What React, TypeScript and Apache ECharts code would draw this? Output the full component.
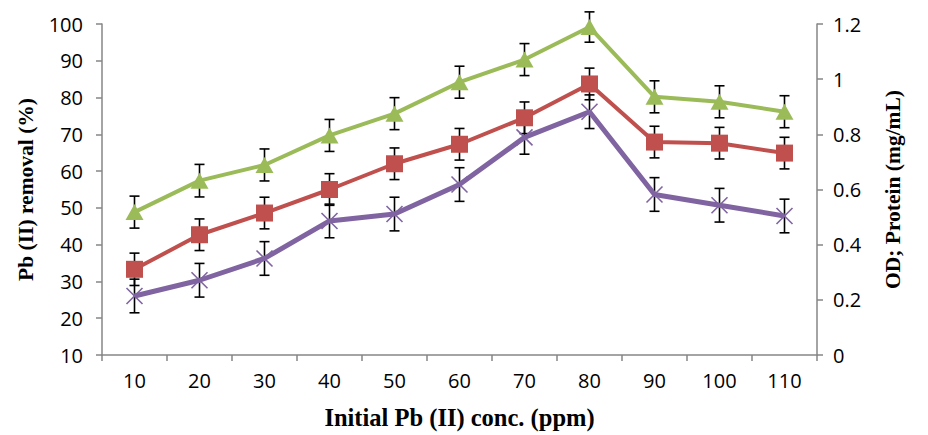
import React, { useEffect, useRef } from "react";
import * as echarts from "echarts";

const categories = ["10", "20", "30", "40", "50", "60", "70", "80", "90", "100", "110"];
// Pb (II) removal (%) - left axis (red squares)
const removal = [33.3, 42.7, 48.6, 55.0, 62.0, 67.3, 74.5, 83.7, 67.9, 67.6, 64.9];
const removalErr = [4.4, 4.3, 4.3, 4.3, 4.3, 4.3, 4.3, 4.3, 4.3, 4.3, 4.3];
// OD - right axis (green triangles)
const od = [0.518, 0.632, 0.689, 0.796, 0.875, 0.989, 1.071, 1.189, 0.936, 0.918, 0.882];
const odErr = [0.058, 0.059, 0.058, 0.058, 0.058, 0.058, 0.058, 0.055, 0.058, 0.058, 0.058];
// Protein (mg/mL) - right axis (purple crosses)
const protein = [0.214, 0.271, 0.35, 0.486, 0.511, 0.618, 0.789, 0.882, 0.582, 0.543, 0.504];
const proteinErr = [0.061, 0.061, 0.061, 0.061, 0.061, 0.061, 0.061, 0.061, 0.061, 0.061, 0.061];

const leftTicks = { min: 10, max: 100, interval: 10 };
const rightTicks = { min: 0, max: 1.2, interval: 0.2 };

const errData = (vals: number[], errs: number[]) =>
  vals.map((v, i) => [i, v - errs[i], v + errs[i]]);

const renderErr = (params: any, api: any) => {
  const x = api.value(0);
  const lo = api.coord([x, api.value(1)]);
  const hi = api.coord([x, api.value(2)]);
  const w = 5;
  const style = { stroke: "#000", lineWidth: 1.6 };
  return {
    type: "group",
    children: [
      { type: "line", shape: { x1: lo[0], y1: lo[1], x2: hi[0], y2: hi[1] }, style },
      { type: "line", shape: { x1: lo[0] - w, y1: lo[1], x2: lo[0] + w, y2: lo[1] }, style },
      { type: "line", shape: { x1: hi[0] - w, y1: hi[1], x2: hi[0] + w, y2: hi[1] }, style },
    ],
  };
};

const GREEN = "#9BBB59";
const RED = "#C0504D";
const PURPLE = "#8064A2";
const AXIS = "#868686";
const tickFont = { fontFamily: "Open Sans", fontSize: 20, color: "#000" };
const nameFont = { fontFamily: "Liberation Serif", fontSize: 21.5, fontWeight: "bold" as const, color: "#000" };

export default function App() {
  const ref = useRef<HTMLDivElement>(null);
  useEffect(() => {
    if (!ref.current) return;
    const chart = echarts.init(ref.current, null, { renderer: "svg" });
    chart.setOption({
      animation: false,
      grid: { left: 102, right: 111, top: 24, bottom: 75 },
      xAxis: {
        type: "category",
        data: categories,
        boundaryGap: true,
        name: "Initial Pb (II) conc. (ppm)",
        nameLocation: "middle",
        nameGap: 50,
        nameTextStyle: { ...nameFont, fontSize: 24.5 },
        axisLine: { lineStyle: { color: AXIS, width: 1.5 } },
        axisTick: { show: true, length: 6, lineStyle: { color: AXIS, width: 1.5 } },
        axisLabel: { ...tickFont, margin: 15 },
        splitLine: { show: false },
      },
      yAxis: [
        {
          type: "value",
          position: "left",
          ...leftTicks,
          name: "Pb (II) removal (%)",
          nameLocation: "middle",
          nameRotate: 90,
          nameGap: 65,
          nameTextStyle: nameFont,
          axisLine: { show: true, lineStyle: { color: AXIS, width: 1.5 } },
          axisTick: { show: true, length: 6, lineStyle: { color: AXIS, width: 1.5 } },
          axisLabel: { ...tickFont, margin: 19 },
          splitLine: { show: false },
        },
        {
          type: "value",
          position: "right",
          ...rightTicks,
          name: "OD; Protein (mg/mL)",
          nameLocation: "middle",
          nameRotate: 90,
          nameGap: 65,
          nameTextStyle: nameFont,
          axisLine: { show: true, lineStyle: { color: AXIS, width: 1.5 } },
          axisTick: { show: true, length: 6, lineStyle: { color: AXIS, width: 1.5 } },
          axisLabel: { ...tickFont, margin: 16 },
          splitLine: { show: false },
        },
      ],
      series: [
        { type: "custom", yAxisIndex: 1, renderItem: renderErr, data: errData(od, odErr), z: 1 },
        { type: "custom", yAxisIndex: 0, renderItem: renderErr, data: errData(removal, removalErr), z: 1 },
        { type: "custom", yAxisIndex: 1, renderItem: renderErr, data: errData(protein, proteinErr), z: 1 },
        {
          type: "line",
          name: "OD",
          yAxisIndex: 1,
          data: od,
          symbol: "triangle",
          symbolSize: [18, 16],
          lineStyle: { color: GREEN, width: 4 },
          itemStyle: { color: GREEN },
          z: 3,
        },
        {
          type: "line",
          name: "Pb (II) removal",
          yAxisIndex: 0,
          data: removal,
          symbol: "rect",
          symbolSize: 17,
          lineStyle: { color: RED, width: 4 },
          itemStyle: { color: RED },
          z: 3,
        },
        {
          type: "line",
          name: "Protein",
          yAxisIndex: 1,
          data: protein,
          symbol: "path://M0,0 L10,10 M10,0 L0,10",
          symbolSize: 16,
          lineStyle: { color: PURPLE, width: 5 },
          itemStyle: { color: "transparent", borderColor: PURPLE, borderWidth: 1.6 },
          z: 3,
        },
      ],
    });
    return () => chart.dispose();
  }, []);
  return (
    <div
      ref={ref}
      style={{ position: "absolute", left: 0, top: 0, width: 928, height: 435 }}
    />
  );
}
